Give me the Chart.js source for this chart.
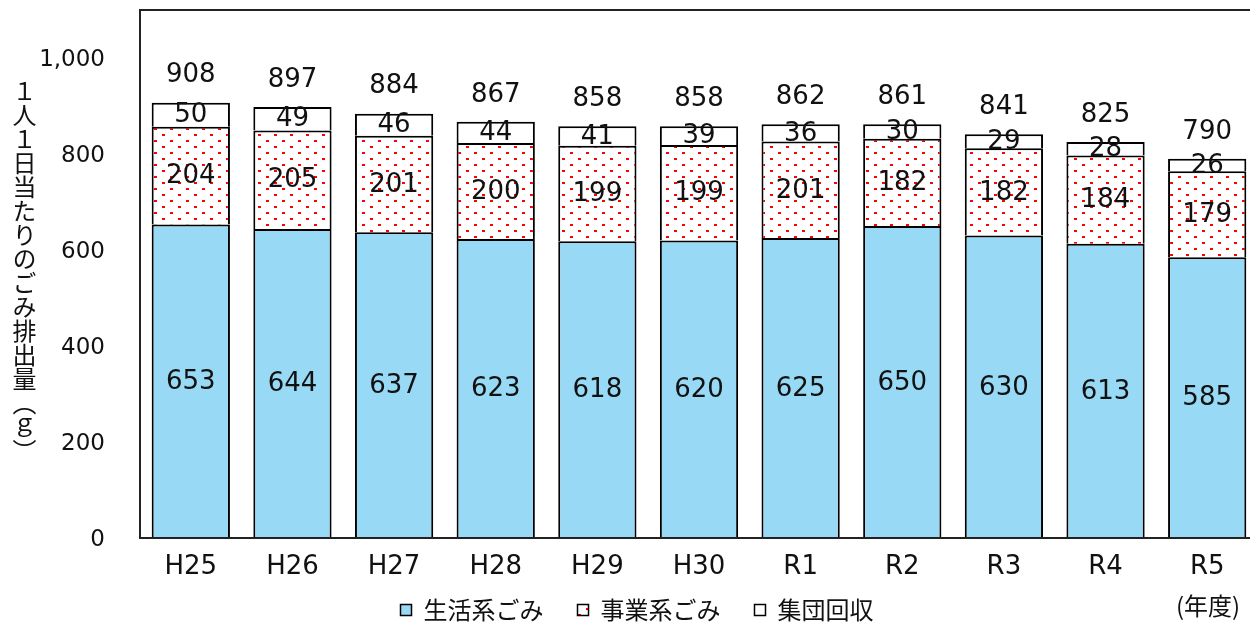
<!DOCTYPE html>
<html lang="ja">
<head>
<meta charset="utf-8">
<script src="https://cdn.jsdelivr.net/npm/chart.js@4"></script>
<style>
  html, body { margin: 0; padding: 0; overflow: hidden; background: #fff; }
  #wrap { position: absolute; left: 0; top: 0; width: 1259px; height: 632px; }
  #ytitle { position: absolute; left: 12px; top: 79px; writing-mode: vertical-rl; text-orientation: upright;
            font: 24px "Noto Sans CJK JP"; line-height: 1; color: #111; }
  #unit { position: absolute; left: 1176px; top: 593px; font: 24px "Noto Sans CJK JP"; line-height: 1; color: #111; }
</style>
</head>
<body>
<div id="wrap"><canvas id="wasteChart"></canvas></div>
<div id="ytitle">１人１日当たりのごみ排出量（ｇ）</div>
<div id="unit">(年度)</div>
<script>
const years = ['H25', 'H26', 'H27', 'H28', 'H29', 'H30', 'R1', 'R2', 'R3', 'R4', 'R5'];
const household = [653, 644, 637, 623, 618, 620, 625, 650, 630, 613, 585];
const business = [204, 205, 201, 200, 199, 199, 201, 182, 182, 184, 179];
const groupCollection = [50, 49, 46, 44, 41, 39, 36, 30, 29, 28, 26];
const totals = [908, 897, 884, 867, 858, 858, 862, 861, 841, 825, 790];

const JP_FONT = '"Noto Sans CJK JP", sans-serif';
const NUM_FONT = '"DejaVu Sans", sans-serif';

// red dot fill for the business waste segment
function dotPattern() {
    const c = document.createElement('canvas');
    c.width = 16;
    c.height = 12;
    const g = c.getContext('2d');
    g.fillStyle = '#fff';
    g.fillRect(0, 0, 16, 12);
    g.fillStyle = '#ff0000';
    g.fillRect(2, 2, 3, 2);
    g.fillRect(10, 8, 3, 2);
    return g.createPattern(c, 'repeat');
}

// numbers inside each segment + total above the bar
const valueLabels = {
    id: 'valueLabels',
    afterDatasetsDraw(chart) {
        const ctx = chart.ctx;
        ctx.save();
        ctx.font = '26px ' + NUM_FONT;
        ctx.fillStyle = '#111';
        ctx.textAlign = 'center';
        ctx.textBaseline = 'middle';
        chart.data.datasets.forEach((ds, i) => {
            chart.getDatasetMeta(i).data.forEach((bar, j) => {
                ctx.fillText(ds.data[j], bar.x, (bar.y + bar.base) / 2 + 1);
            });
        });
        chart.getDatasetMeta(2).data.forEach((bar, j) => {
            ctx.fillText(totals[j], bar.x, bar.y - 27);
        });
        ctx.restore();
    }
};

// box around the plot area
const plotFrame = {
    id: 'plotFrame',
    afterDraw(chart) {
        const { ctx, chartArea: a } = chart;
        ctx.save();
        ctx.strokeStyle = '#222';
        ctx.lineWidth = 2;
        ctx.strokeRect(a.left, a.top, a.right - a.left, a.bottom - a.top);
        ctx.restore();
    }
};

const defaultLabels = Chart.defaults.plugins.legend.labels.generateLabels;

const ctx = document.getElementById('wasteChart').getContext('2d');
new Chart(ctx, {
    type: 'bar',
    data: {
        labels: years,
        datasets: [
            { label: '生活系ごみ　', data: household, backgroundColor: '#98daf6', borderColor: '#000', borderWidth: 2 },
            { label: '事業系ごみ　', data: business, backgroundColor: dotPattern(), borderColor: '#000', borderWidth: 2 },
            { label: '集団回収', data: groupCollection, backgroundColor: '#fff', borderColor: '#000', borderWidth: 2 }
        ]
    },
    options: {
        responsive: true,
        maintainAspectRatio: false,
        animation: false,
        layout: { padding: { top: 10, left: 16, right: 1, bottom: 0 } },
        datasets: { bar: { barPercentage: 0.77, categoryPercentage: 1 } },
        plugins: {
            tooltip: { enabled: false },
            legend: {
                position: 'bottom',
                labels: {
                    font: { family: JP_FONT, size: 24 },
                    color: '#111',
                    boxWidth: 11,
                    boxHeight: 11,
                    padding: 10,
                    generateLabels(chart) {
                        return defaultLabels(chart).map(l => ({ ...l, lineWidth: 1.5 }));
                    }
                }
            }
        },
        scales: {
            x: {
                stacked: true,
                grid: { display: false },
                border: { display: false },
                ticks: { font: { family: NUM_FONT, size: 26 }, color: '#111', padding: 6 },
                afterFit(scale) { scale.height = 50; }
            },
            y: {
                stacked: true,
                min: 0,
                max: 1100,
                grid: { display: false },
                border: { display: false },
                ticks: { stepSize: 200, font: { family: NUM_FONT, size: 23 }, color: '#111', padding: 27, labelOffset: 2 },
                afterBuildTicks(scale) { scale.ticks = scale.ticks.filter(t => t.value <= 1000); },
                afterFit(scale) {
                    scale.width = 124;
                    scale.paddingTop = 0;
                    scale.paddingBottom = 0;
                }
            }
        }
    },
    plugins: [valueLabels, plotFrame]
});
</script>
</body>
</html>
